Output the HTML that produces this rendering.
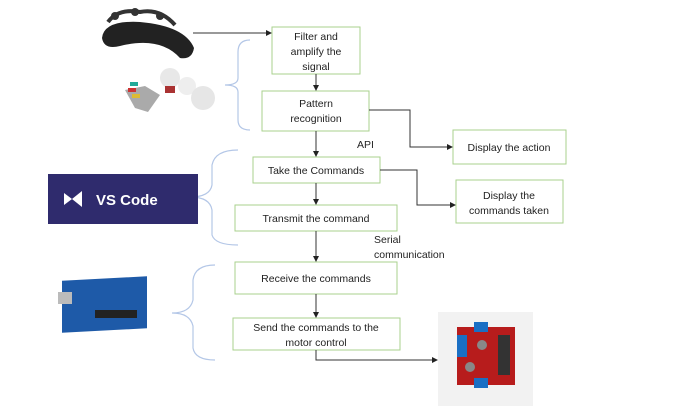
<!DOCTYPE html><html><head><style>body{margin:0;background:#fff}svg{display:block}text{font-family:"Liberation Sans",sans-serif;font-size:10.5px;fill:#222}</style></head><body>
<svg width="697" height="408" viewBox="0 0 697 408">
<defs><marker id="a" markerWidth="6" markerHeight="6" refX="5" refY="3" orient="auto"><path d="M0,0 L6,3 L0,6z" fill="#222"/></marker></defs>
<g fill="#fff" stroke="#a9d18e" stroke-width="1">
<rect x="272" y="27" width="88" height="47"/>
<rect x="262" y="91" width="107" height="40"/>
<rect x="453" y="130" width="113" height="34"/>
<rect x="253" y="157" width="127" height="26"/>
<rect x="456" y="180" width="107" height="43"/>
<rect x="235" y="205" width="162" height="26"/>
<rect x="235" y="262" width="162" height="32"/>
<rect x="233" y="318" width="167" height="32"/>
</g>
<g stroke="#333" stroke-width="1" fill="none" marker-end="url(#a)">
<path d="M193 33H271"/><path d="M316 74V90"/><path d="M316 131V156"/>
<path d="M369 110H410V147H452"/><path d="M380 170H417V205H455"/>
<path d="M316 183V204"/><path d="M316 231V261"/><path d="M316 294V317"/>
<path d="M316 350V360H437"/>
</g>
<g stroke="#b4c7e7" stroke-width="1.2" fill="none">
<path d="M250 40Q238 40 238 52V78Q238 85 225 85Q238 85 238 92V120Q238 130 250 130"/>
<path d="M238 150Q215 150 212 165V185Q210 197 190 197Q210 197 212 210V235Q215 245 238 245"/>
<path d="M215 265Q195 265 193 280V300Q190 313 172 313Q190 313 193 326V348Q195 360 215 360"/>
</g>
<g text-anchor="middle">
<text x="316" y="40">Filter and</text><text x="316" y="55">amplify the</text><text x="316" y="70">signal</text>
<text x="316" y="107">Pattern</text><text x="316" y="122">recognition</text>
<text x="509" y="151">Display the action</text>
<text x="316" y="174">Take the Commands</text>
<text x="509" y="199">Display the</text><text x="509" y="214">commands taken</text>
<text x="316" y="222">Transmit the command</text>
<text x="316" y="282">Receive the commands</text>
<text x="316" y="331">Send the commands to the</text><text x="316" y="346">motor control</text>
</g>
<text x="357" y="148">API</text>
<text x="374" y="243">Serial</text><text x="374" y="258">communication</text>
<rect x="48" y="174" width="150" height="50" fill="#2f2b6d"/>
<path d="M64 193L72 199L64 205ZM72 199L82 191V207Z" fill="#fff"/>
<text x="96" y="205" style="font-size:15px;fill:#fff;font-weight:bold">VS Code</text>
<!-- headset -->
<path d="M102 38Q104 20 140 22Q185 26 194 48Q192 60 180 58Q160 36 120 46Q104 50 102 38Z" fill="#222"/>
<path d="M108 22Q118 8 140 12Q160 8 175 25" stroke="#333" stroke-width="4" fill="none"/>
<circle cx="115" cy="16" r="4" fill="#333"/><circle cx="135" cy="12" r="4" fill="#333"/><circle cx="160" cy="16" r="4" fill="#333"/>
<!-- electrodes -->
<circle cx="170" cy="78" r="10" fill="#e8e8e8"/><circle cx="187" cy="86" r="9" fill="#eee"/><circle cx="203" cy="98" r="12" fill="#e6e6e6"/>
<path d="M125 90L145 86L160 95L148 112L135 108Z" fill="#aaa"/>
<rect x="130" y="82" width="8" height="4" fill="#2a9"/><rect x="128" y="88" width="8" height="4" fill="#c33"/><rect x="132" y="94" width="8" height="4" fill="#db3"/>
<rect x="165" y="86" width="10" height="7" fill="#a33"/>
<!-- arduino -->
<rect x="62" y="284" width="85" height="52" fill="#1e5aa8" transform="skewY(-3)"/>
<rect x="58" y="292" width="14" height="12" fill="#bbb"/>
<rect x="95" y="310" width="42" height="8" fill="#222"/>
<!-- motor driver -->
<rect x="438" y="312" width="95" height="94" fill="#f2f2f2"/>
<rect x="457" y="327" width="58" height="58" fill="#b71c1c"/>
<rect x="474" y="322" width="14" height="10" fill="#1a6fc4"/><rect x="457" y="335" width="10" height="22" fill="#1a6fc4"/><rect x="474" y="378" width="14" height="10" fill="#1a6fc4"/>
<rect x="498" y="335" width="12" height="40" fill="#333"/>
<circle cx="482" cy="345" r="5" fill="#888"/><circle cx="470" cy="367" r="5" fill="#888"/>
</svg></body></html>
